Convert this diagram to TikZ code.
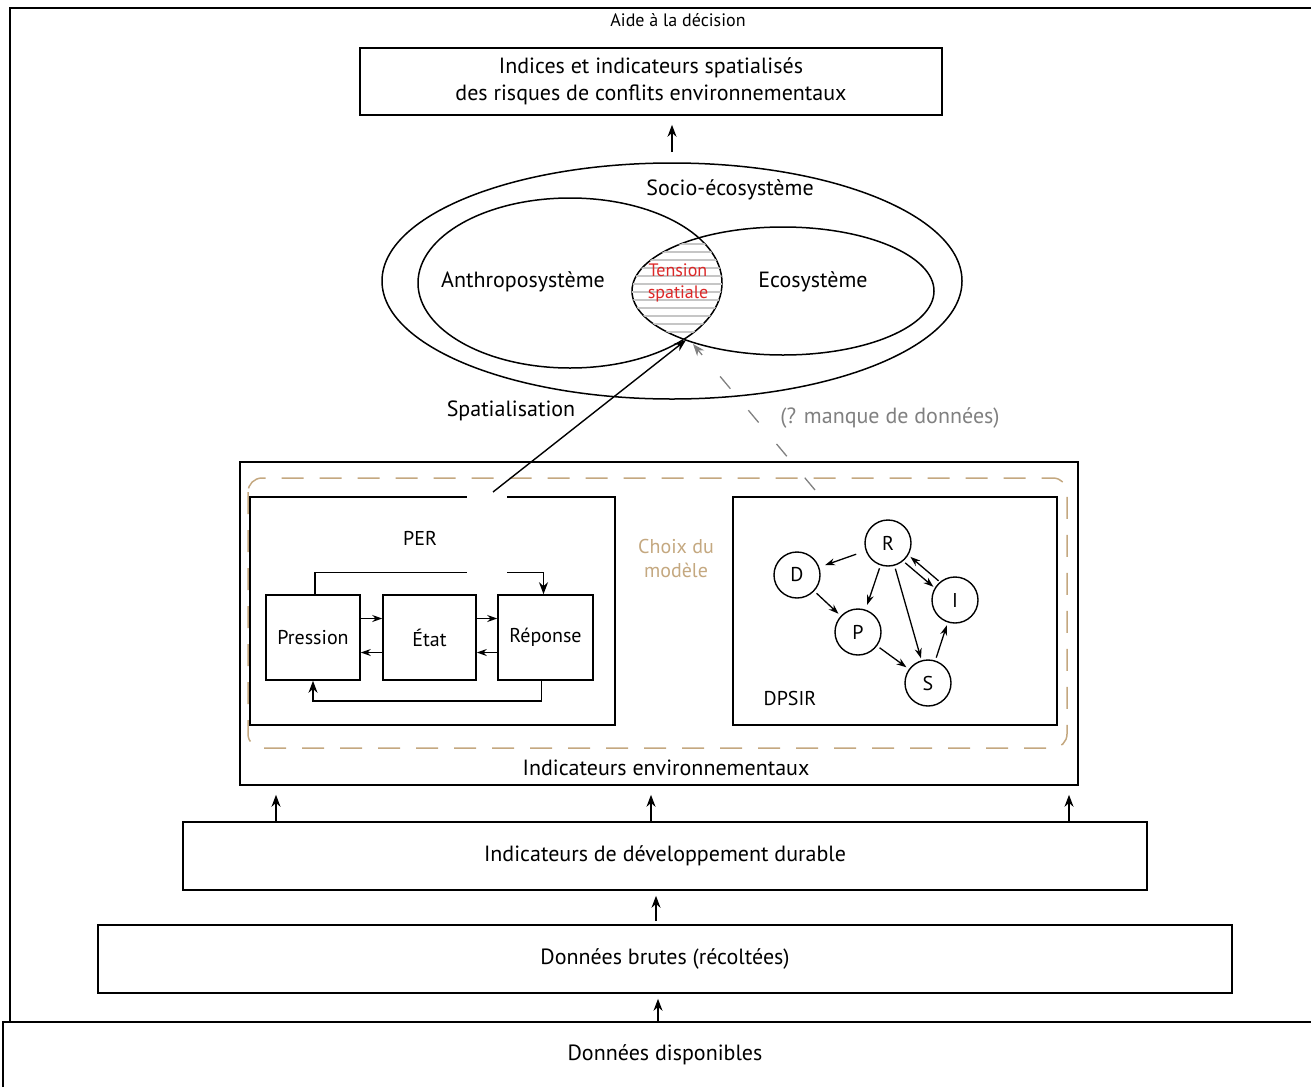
\documentclass[tikz,border=0pt]{standalone}
\usepackage{fontspec}
\setmainfont{PT Sans}
\usetikzlibrary{arrows.meta,calc}
\definecolor{choix}{RGB}{196,168,128}
\definecolor{tension}{RGB}{220,40,40}
\begin{document}
\begin{tikzpicture}[x=1pt,y=-1pt,
  every node/.style={inner sep=0pt,font=\fontsize{22}{27}\selectfont},
  small/.style={font=\fontsize{20}{24}\selectfont},
  frame/.style={draw,line width=1.6pt,align=center},
  arr/.style={-{Stealth[length=12pt,width=9pt]},line width=1.4pt},
  sarr/.style={-{Stealth[length=10pt,width=7pt]},line width=1.3pt},
  etat/.style={circle,draw,line width=1.4pt,minimum size=46pt,small}]
\useasboundingbox (0,0) rectangle (1311,1087);
\draw[line width=1.6pt] (10,1022) -- (10,8) -- (1311,8);
\draw[line width=1.6pt] (3,1087) -- (3,1022) -- (1311,1022);
\node[font=\fontsize{18}{22}\selectfont] (aide) at (678,20) {Aide à la décision};
\node[frame,minimum width=582pt,minimum height=67pt] (indices) at (651,81.5)
  {Indices et indicateurs spatialisés\\des risques de conflits environnementaux};
% socio-ecosysteme
\draw[line width=1.5pt] (672,281) ellipse [x radius=290pt,y radius=118pt];
\draw[line width=1.5pt] (570,283) ellipse [x radius=152pt,y radius=85pt];
\draw[line width=1.5pt] (783,291) ellipse [x radius=151pt,y radius=64pt];
\begin{scope}
\clip (570,283) ellipse [x radius=152pt,y radius=85pt];
\clip (783,291) ellipse [x radius=151pt,y radius=64pt];
\foreach \y in {236,244,...,340} \draw[gray!45,line width=1.4pt] (600,\y) -- (740,\y);
\end{scope}
\coordinate (lens) at (686,340);
\coordinate (top) at (672,152);
\node (socio) at (730,190) {Socio-écosystème};
\node (anthro) at (523,282) {Anthroposystème};
\node (eco) at (813,282) {Ecosystème};
\node[text=tension,align=center,font=\fontsize{18}{22}\selectfont] (tens) at (678,283) {Tension\\spatiale};
\draw[arr,shorten >=9pt] (top) -- (indices.south -| top);
% indicateurs environnementaux
\node[frame,minimum width=838pt,minimum height=323pt] (env) at (659,623.5) {};
\node (envlbl) at (666,768) {Indicateurs environnementaux};
\draw[choix,line width=1.5pt,dash pattern=on 22pt off 16pt,rounded corners=14pt] (248,478) rectangle (1067,748);
\node[text=choix,align=center,small] (choixlbl) at (676,558) {Choix du\\modèle};
% PER
\node[frame,minimum width=365pt,minimum height=228pt] (per) at (432.5,611) {};
\node[small] (perlbl) at (420,538) {PER};
\node[frame,small,minimum width=94pt,minimum height=85pt] (pression) at (313,637.5) {Pression};
\node[frame,small,minimum width=93pt,minimum height=85pt] (etatbox) at (429.5,637.5) {État};
\node[frame,small,minimum width=95pt,minimum height=85pt] (reponse) at (545.5,637.5) {Réponse};
\draw[sarr] ([yshift=19pt]pression.east) -- ([yshift=19pt]etatbox.west);
\draw[sarr] ([yshift=-15pt]etatbox.west) -- ([yshift=-15pt]pression.east);
\draw[sarr] ([yshift=19pt]etatbox.east) -- ([yshift=19pt]reponse.west);
\draw[sarr] ([yshift=-15pt]reponse.west) -- ([yshift=-15pt]etatbox.east);
\draw[arr] ([xshift=2pt]pression.north) -- ++(0,-22) -| ([xshift=-2pt]reponse.north);
\draw[arr] ([xshift=-4pt]reponse.south) -- ++(0,20) -| (pression.south);
\fill[white] (467,488) rectangle (507,576);
% DPSIR
\node[frame,minimum width=324pt,minimum height=228pt] (dpsir) at (895,611) {};
\node[small] (dpsirlbl) at (790,698) {DPSIR};
\node[etat] (R) at (888,543) {R};
\node[etat] (D) at (797,575) {D};
\node[etat] (P) at (858,632) {P};
\node[etat] (I) at (955,600) {I};
\node[etat] (S) at (928,683) {S};
\draw[sarr,shorten <=10pt,shorten >=6pt] (R) -- (D);
\draw[sarr,shorten <=3pt,shorten >=5pt] (R) -- (P);
\draw[sarr,shorten <=3pt,shorten >=2pt] (R) -- (S);
\draw[sarr] ($(R)!26pt!(I)+(-2.6,3)$) -- ($(I)!25pt!(R)+(-2.6,3)$);
\draw[sarr] ($(I)!25pt!(R)+(2.6,-3)$) -- ($(R)!26pt!(I)+(2.6,-3)$);
\draw[sarr,shorten <=3pt,shorten >=3pt] (D) -- (P);
\draw[sarr,shorten <=3pt,shorten >=3pt] (P) -- (S);
\draw[sarr,shorten <=3pt,shorten >=3pt] (S) -- (I);
% spatialisation
\coordinate (spstart) at (493,492);
\draw[arr] (spstart) -- (lens);
\node (spat) at (511,411) {Spatialisation};
\coordinate (manque) at (815,490);
\draw[gray,line width=1.3pt,dash pattern=on 16pt off 28pt,-{Stealth[length=12pt,width=9pt]}] (manque) -- ([xshift=7pt,yshift=-4pt]lens);
\node[text=gray] (manquelbl) at (890,418) {(? manque de données)};
% indicateurs durables
\node[frame,minimum width=964pt,minimum height=68pt] (dd) at (665,856) {Indicateurs de développement durable};
\foreach \x in {276,651,1069}
  \draw[arr,shorten >=9pt] (dd.north -| \x,0) -- (env.south -| \x,0);
\node[frame,minimum width=1134pt,minimum height=68pt] (brutes) at (665,959) {Données brutes (récoltées)};
\draw[arr,shorten <=3pt,shorten >=5pt] (brutes.north -| 656,0) -- (dd.south -| 656,0);
\coordinate (dispotop) at (658,1022);
\draw[arr,shorten >=5pt] (dispotop) -- (brutes.south -| 658,0);
\node (dispo) at (665,1055) {Données disponibles};
\end{tikzpicture}
\end{document}
